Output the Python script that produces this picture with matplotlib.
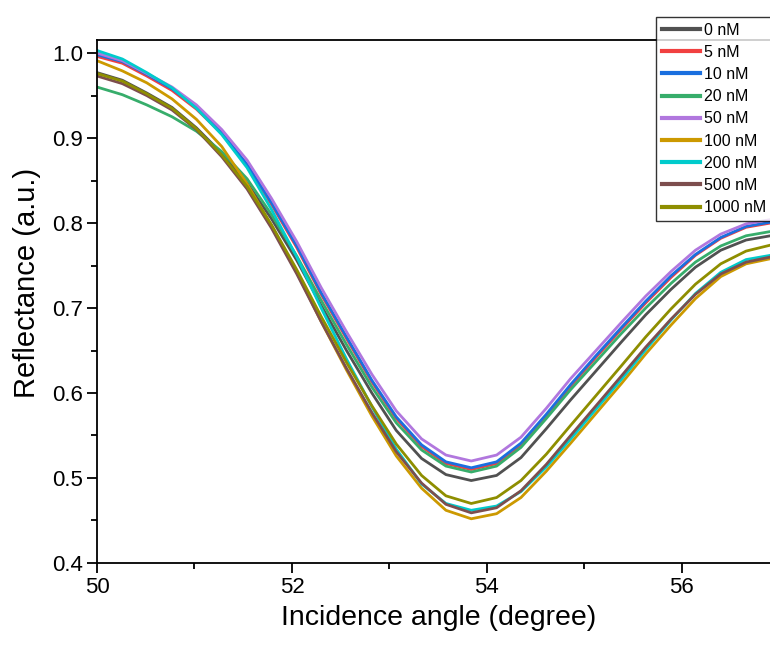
import matplotlib.pyplot as plt
from matplotlib.ticker import MultipleLocator

plt.rcParams['font.family'] = ['Liberation Sans', 'DejaVu Sans']

angle = [50.00, 50.26, 50.51, 50.77, 51.02, 51.28, 51.54, 51.79, 52.05, 52.30,
         52.56, 52.82, 53.07, 53.33, 53.58, 53.84, 54.10, 54.35, 54.61, 54.86,
         55.12, 55.38, 55.63, 55.89, 56.14, 56.40, 56.66, 56.91, 57.17]

r_0 = [0.977, 0.968, 0.953, 0.936, 0.912, 0.882, 0.847, 0.805, 0.756, 0.703,
       0.650, 0.600, 0.556, 0.523, 0.504, 0.497, 0.503, 0.524, 0.558, 0.592,
       0.626, 0.660, 0.692, 0.722, 0.748, 0.768, 0.780, 0.785, 0.788]
r_5 = [0.996, 0.988, 0.973, 0.956, 0.934, 0.905, 0.868, 0.822, 0.771, 0.716,
       0.664, 0.613, 0.570, 0.537, 0.517, 0.510, 0.517, 0.539, 0.573, 0.608,
       0.642, 0.675, 0.706, 0.736, 0.762, 0.782, 0.795, 0.800, 0.803]
r_10 = [0.998, 0.990, 0.975, 0.958, 0.936, 0.906, 0.869, 0.824, 0.773, 0.718,
        0.666, 0.615, 0.572, 0.539, 0.519, 0.512, 0.519, 0.541, 0.575, 0.610,
        0.644, 0.677, 0.708, 0.738, 0.763, 0.783, 0.796, 0.801, 0.804]
r_20 = [0.960, 0.951, 0.939, 0.925, 0.908, 0.884, 0.852, 0.810, 0.761, 0.709,
        0.657, 0.607, 0.565, 0.533, 0.514, 0.507, 0.514, 0.536, 0.570, 0.604,
        0.637, 0.670, 0.700, 0.729, 0.754, 0.773, 0.785, 0.790, 0.793]
r_50 = [1.000, 0.991, 0.976, 0.960, 0.939, 0.910, 0.874, 0.829, 0.778, 0.724,
        0.672, 0.622, 0.579, 0.546, 0.527, 0.520, 0.527, 0.548, 0.582, 0.617,
        0.650, 0.683, 0.714, 0.743, 0.768, 0.787, 0.799, 0.804, 0.807]
r_100 = [0.991, 0.979, 0.965, 0.946, 0.922, 0.890, 0.846, 0.797, 0.742, 0.684,
         0.627, 0.573, 0.526, 0.488, 0.462, 0.452, 0.458, 0.477, 0.508, 0.541,
         0.576, 0.611, 0.646, 0.680, 0.711, 0.737, 0.752, 0.758, 0.761]
r_200 = [1.003, 0.993, 0.977, 0.959, 0.935, 0.904, 0.865, 0.816, 0.760, 0.700,
         0.640, 0.584, 0.534, 0.493, 0.470, 0.462, 0.467, 0.484, 0.513, 0.546,
         0.581, 0.616, 0.651, 0.686, 0.717, 0.742, 0.757, 0.762, 0.764]
r_500 = [0.973, 0.964, 0.950, 0.933, 0.910, 0.878, 0.840, 0.794, 0.740, 0.684,
         0.629, 0.577, 0.531, 0.494, 0.469, 0.459, 0.465, 0.485, 0.516, 0.550,
         0.585, 0.620, 0.654, 0.687, 0.716, 0.740, 0.754, 0.760, 0.763]
r_1000 = [0.976, 0.967, 0.952, 0.935, 0.911, 0.880, 0.843, 0.798, 0.745, 0.690,
          0.636, 0.585, 0.540, 0.503, 0.479, 0.470, 0.477, 0.497, 0.528, 0.562,
          0.597, 0.632, 0.666, 0.699, 0.728, 0.752, 0.767, 0.774, 0.777]

labels = ["0 nM", "5 nM", "10 nM", "20 nM", "50 nM", "100 nM", "200 nM", "500 nM", "1000 nM"]
series = [r_0, r_5, r_10, r_20, r_50, r_100, r_200, r_500, r_1000]
colors = ["#515151", "#F14040", "#1A6FDF", "#37AD6B", "#B177DE",
          "#CC9900", "#00CBCC", "#7D4E4E", "#8E8E00"]

fig = plt.figure(figsize=(7.7, 6.48), dpi=100)
ax = fig.add_axes([0.126, 0.1312, 0.886, 0.807])

for y, c, lab in zip(series, colors, labels):
    ax.plot(angle, y, color=c, lw=2, label=lab)

ax.set_xlim(50, 57)
ax.set_ylim(0.4, 1.0153)
ax.xaxis.set_major_locator(MultipleLocator(2))
ax.xaxis.set_minor_locator(MultipleLocator(1))
ax.yaxis.set_major_locator(MultipleLocator(0.1))
ax.yaxis.set_minor_locator(MultipleLocator(0.05))
ax.yaxis.set_major_formatter(plt.FormatStrFormatter('%.1f'))
ax.tick_params(which='major', direction='out', length=7, width=1.3, labelsize=16, pad=3)
ax.tick_params(which='minor', direction='out', length=4, width=1.3)
for s in ax.spines.values():
    s.set_linewidth(1.3)

ax.set_xlabel("Incidence angle (degree)", fontsize=20.5, labelpad=5)
ax.set_ylabel("Reflectance (a.u.)", fontsize=21)
ax.yaxis.set_label_coords(-0.082, 0.535)

leg = fig.legend(loc='upper left', bbox_to_anchor=(656 / 770, 1 - 17 / 648),
                 fontsize=11.5, frameon=True, fancybox=False, handlelength=2.4,
                 handletextpad=0.25, labelspacing=0.45, borderpad=0.35,
                 borderaxespad=0)
leg.get_frame().set_edgecolor('black')
leg.get_frame().set_linewidth(1.0)
for h in leg.get_lines():
    h.set_linewidth(3)

fig.savefig("out.png", dpi=100)
